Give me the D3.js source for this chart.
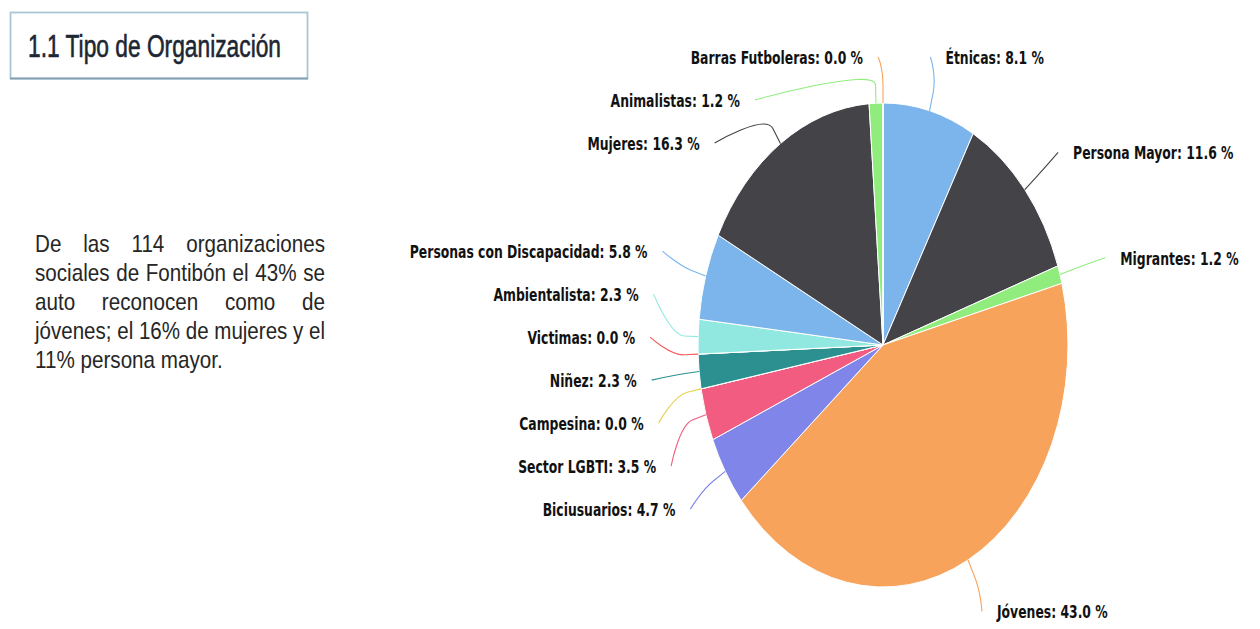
<!DOCTYPE html>
<html>
<head>
<meta charset="utf-8">
<script src="https://cdn.jsdelivr.net/npm/d3@7"></script>
<style>
  html, body { margin: 0; padding: 0; background: #ffffff; }
  svg { display: block; }
</style>
</head>
<body>
<svg id="chart" width="1260" height="629"></svg>
<script>
// ---- Data -------------------------------------------------------------
const categories = [
  "Étnicas", "Persona Mayor", "Migrantes", "Jóvenes", "Biciusuarios",
  "Sector LGBTI", "Campesina", "Niñez", "Victimas", "Ambientalista",
  "Personas con Discapacidad", "Mujeres", "Animalistas", "Barras Futboleras"
];
const values = [8.1, 11.6, 1.2, 43.0, 4.7, 3.5, 0.0, 2.3, 0.0, 2.3, 5.8, 16.3, 1.2, 0.0];
const sliceColors = [
  "#7cb5ec", "#434348", "#90ed7d", "#f7a35c", "#8085e9", "#f15c80", "#e4d354",
  "#2b908f", "#f45b5b", "#91e8e1", "#7cb5ec", "#434348", "#90ed7d", "#f7a35c"
];
const titleText = "1.1 Tipo de Organización";
const paragraphLines = [
  "De las 114 organizaciones",
  "sociales de Fontibón el 43% se",
  "auto reconocen como de",
  "jóvenes; el 16% de mujeres y el",
  "11% persona mayor."
];

// ---- Layout -----------------------------------------------------------
const svg = d3.select("#chart");
const cx = 883, cy = 345;          // pie centre
const rx = 185, ry = 242;          // pie radii (drawn as a stretched circle)
const ky = ry / rx;
const labelA = 248, labelB = 300;  // ellipse on which labels sit
const labelGap = 43, labelMinY = 57, labelMaxY = 615;
const narrowFont = "'Liberation Sans Narrow', 'Liberation Sans', Arial, sans-serif";

// ---- Title box --------------------------------------------------------
const titleG = svg.append("g");
titleG.append("rect")
  .attr("x", 10.5).attr("y", 12.5).attr("width", 297).attr("height", 66)
  .attr("fill", "#ffffff").attr("stroke", "#a9c6d3").attr("stroke-width", 1.8);
titleG.append("line")
  .attr("x1", 10).attr("x2", 308).attr("y1", 78.5).attr("y2", 78.5)
  .attr("stroke", "#86a3b6").attr("stroke-width", 2);
titleG.append("text")
  .attr("x", 28).attr("y", 57)
  .attr("font-family", narrowFont)
  .attr("font-size", 31)
  .attr("fill", "#1d2633").attr("stroke", "#1d2633").attr("stroke-width", 0.6)
  .attr("textLength", 253).attr("lengthAdjust", "spacingAndGlyphs")
  .text(titleText);

// ---- Justified paragraph ---------------------------------------------
const paraLeft = 35, paraRight = 325, paraTop = 252, paraLead = 29;
const paraScaleX = 0.86;
const paraG = svg.append("g")
  .attr("font-family", narrowFont)
  .attr("font-size", 24)
  .attr("fill", "#262626");
paragraphLines.forEach((line, i) => {
  const t = paraG.append("text")
    .attr("transform", `translate(${paraLeft},${paraTop + i * paraLead}) scale(${paraScaleX},1)`)
    .attr("x", 0).attr("y", 0)
    .text(line);
  if (i === paragraphLines.length - 1) return;   // last line stays ragged
  const natural = t.node().getComputedTextLength();
  const spaces = (line.match(/ /g) || []).length;
  const avail = (paraRight - paraLeft) / paraScaleX;
  if (natural <= avail && spaces > 0) {
    t.attr("word-spacing", (avail - natural) / spaces);
  } else {
    t.attr("textLength", avail).attr("lengthAdjust", "spacingAndGlyphs");
  }
});

// ---- Pie --------------------------------------------------------------
const pie = d3.pie().sort(null).value(d => d).startAngle(0).endAngle(2 * Math.PI);
const arcs = pie(values);
const arc = d3.arc().innerRadius(0).outerRadius(rx);

const pieG = svg.append("g")
  .attr("transform", `translate(${cx},${cy}) scale(1,${ky})`);
pieG.selectAll("path")
  .data(arcs)
  .join("path")
  .attr("d", arc)
  .attr("fill", (d, i) => sliceColors[i])
  .attr("stroke", "#ffffff")
  .attr("stroke-width", 1)
  .attr("vector-effect", "non-scaling-stroke")
  .attr("stroke-linejoin", "round");

// ---- Labels -----------------------------------------------------------
const labels = arcs.map((d, i) => {
  const mid = (d.startAngle + d.endAngle) / 2;
  const right = mid < Math.PI;
  return {
    i, mid, right,
    target: cy - labelB * Math.cos(mid),
    text: `${categories[i]}: ${values[i].toFixed(1)} %`
  };
});

// Spread labels on one side so they keep a minimum gap, grouping the ones
// that collide and centring each group on the mean of its targets.
function distribute(items) {
  items.sort((a, b) => a.target - b.target);
  let groups = items.map(d => ({ items: [d] }));
  const place = g => {
    const n = g.items.length;
    let top = d3.mean(g.items, (d, k) => d.target - k * labelGap);
    top = Math.max(labelMinY, Math.min(labelMaxY - (n - 1) * labelGap, top));
    g.top = top;
  };
  groups.forEach(place);
  let merged = true;
  while (merged) {
    merged = false;
    for (let k = 0; k < groups.length - 1; k++) {
      const a = groups[k], b = groups[k + 1];
      if (a.top + a.items.length * labelGap > b.top + 0.01) {
        const g = { items: a.items.concat(b.items) };
        place(g);
        groups.splice(k, 2, g);
        merged = true;
        break;
      }
    }
  }
  groups.forEach(g => g.items.forEach((d, k) => { d.y = g.top + k * labelGap; }));
  // the top-most label keeps the x of its natural position so its
  // connector does not cross the neighbouring one
  if (items.length) items[0].topMost = true;
}
distribute(labels.filter(d => d.right));
distribute(labels.filter(d => !d.right));

labels.forEach(d => {
  const yForX = d.topMost ? d.target : d.y;
  const dy = (yForX - cy) / labelB;
  const dx = Math.max(20, labelA * Math.sqrt(Math.max(0, 1 - dy * dy)));
  d.x = d.right ? cx + dx : cx - dx;
  const s = Math.sin(d.mid), c = Math.cos(d.mid);
  d.touch = [cx + rx * s, cy - ry * c];
  d.brk = [cx + (rx + 14) * s, cy - (ry + 14 * ky) * c];
  d.start = [d.right ? d.x - 15 : d.x + 15, d.y];
});

const connG = svg.append("g").attr("fill", "none").attr("stroke-width", 1.1);
connG.selectAll("path")
  .data(labels)
  .join("path")
  .attr("stroke", d => sliceColors[d.i])
  .attr("d", d => {
    const [sx, sy] = d.start, [bx, by] = d.brk, [tx, ty] = d.touch;
    return `M${sx},${sy}C${sx},${sy} ${2 * bx - tx},${2 * by - ty} ${bx},${by}L${tx},${ty}`;
  });

const textG = svg.append("g")
  .attr("font-family", "'DejaVu Sans Condensed', 'DejaVu Sans', sans-serif")
  .attr("font-weight", "bold")
  .attr("font-size", 13.5)
  .attr("fill", "#111111");
textG.selectAll("text")
  .data(labels)
  .join("text")
  .attr("transform", d => `translate(${d.x},${d.y + 7}) scale(1.02,1.3)`)
  .attr("text-anchor", d => d.right ? "start" : "end")
  .attr("stroke", "#ffffff").attr("stroke-width", 2).attr("paint-order", "stroke")
  .text(d => d.text);
</script>
</body>
</html>
